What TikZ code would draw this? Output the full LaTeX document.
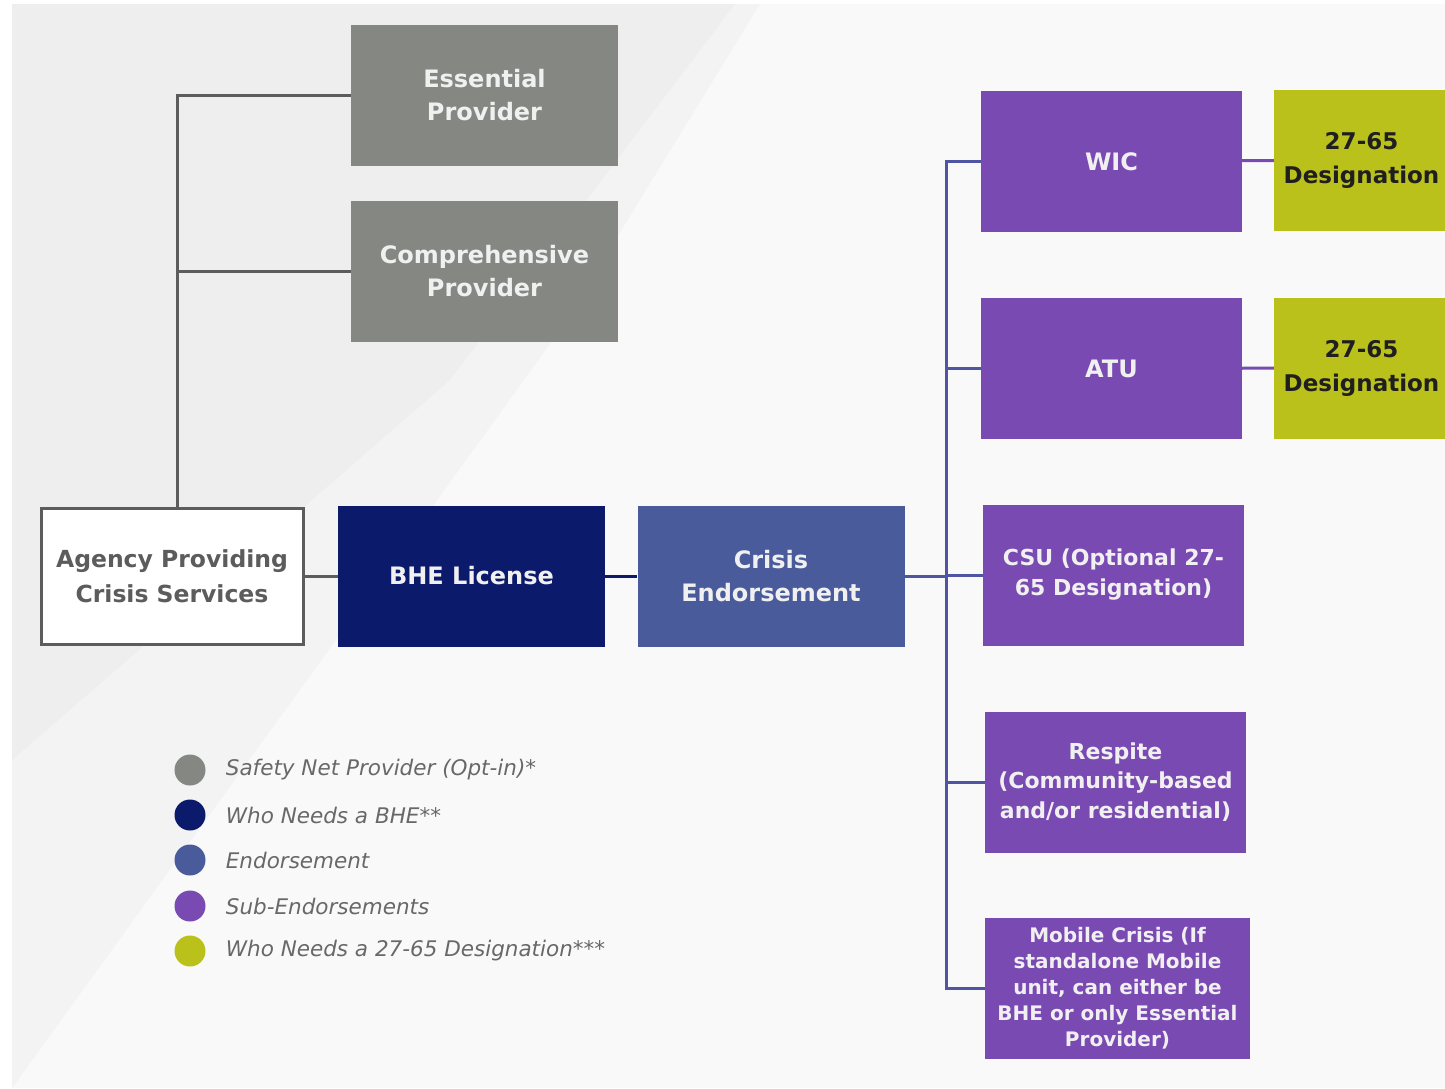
\documentclass[tikz,border=0pt]{standalone}
\usepackage{fontspec}
\setmainfont{DejaVu Sans}
\usepackage{tikz}
\usetikzlibrary{positioning}
\definecolor{provgray}{HTML}{858783}
\definecolor{bhenavy}{HTML}{0B1A6B}
\definecolor{endblue}{HTML}{4A5B9B}
\definecolor{subpurple}{HTML}{7A4AB3}
\definecolor{deslime}{HTML}{BBC11B}
\definecolor{linegray}{HTML}{5C5C5C}
\definecolor{busblue}{HTML}{4F55A3}
\definecolor{legtextgray}{HTML}{686868}
\definecolor{bgpale}{HTML}{F9F9F9}
\definecolor{bgmid}{HTML}{F3F3F3}
\definecolor{bgshade}{HTML}{EEEEEE}

\begin{document}
\begin{tikzpicture}[x=1pt, y=-1pt,
    box/.style={rectangle, inner sep=0pt, align=center, text=white!94!black,
                minimum width=267pt, minimum height=141pt,
                font=\bfseries\fontsize{24}{33}\selectfont},
    provbox/.style={box, fill=provgray},
    agencybox/.style={box, fill=white, draw=linegray, line width=3pt,
                      minimum width=262pt, minimum height=136pt, text=linegray,
                      font=\bfseries\fontsize{23.5}{35}\selectfont},
    bhebox/.style={box, fill=bhenavy},
    endbox/.style={box, fill=endblue},
    subbox/.style={box, fill=subpurple, minimum width=261pt},
    desbox/.style={box, fill=deslime, minimum width=175pt, text=black!88,
                   font=\bfseries\fontsize{23}{34}\selectfont},
    grayline/.style={draw=linegray, line width=3pt},
    navyline/.style={draw=bhenavy, line width=3pt},
    endline/.style={draw=busblue, line width=3pt},
    subline/.style={draw=subpurple, line width=3pt},
    dot/.style={circle, inner sep=0pt, minimum size=31pt},
    legtext/.style={inner sep=0pt, anchor=west, text=legtextgray,
                    font=\itshape\fontsize{21.5}{26}\selectfont}]
      % background
      \useasboundingbox (0,0) rectangle (1445,1088);
      \fill[white] (0,0) rectangle (1445,1088);
      \fill[bgpale] (12,4) rectangle (1445,1088);
      \fill[bgmid] (12,4) -- (760,4) -- (560,330) -- (12,1088) -- cycle;
      \fill[bgshade] (12,4) -- (735,4) -- (450,380) -- (12,760) -- cycle;

      % safety net providers
      \node[provbox] (essential) at (484.5,95.5) {Essential\\Provider};
      \node[provbox] (comprehensive) at (484.5,271.5) {Comprehensive\\Provider};

      % main row
      \node[agencybox] (agency) at (172,576) {Agency Providing\\Crisis Services};
      \node[bhebox] (bhe) at (471.5,576) {BHE License};
      \node[endbox] (crisis) at (771,576) {Crisis\\Endorsement};

      % sub-endorsements
      \node[subbox] (wic) at (1111.5,161.5) {WIC};
      \node[subbox] (atu) at (1111.5,368.5) {ATU};
      \node[subbox, font=\bfseries\fontsize{22}{30}\selectfont] (csu) at (1113.5,575)
            {CSU (Optional 27-\\65 Designation)};
      \node[subbox, font=\bfseries\fontsize{22}{29.5}\selectfont] (respite) at (1115.5,782)
            {Respite\\(Community-based\\and/or residential)};
      \node[subbox, minimum width=265pt, font=\bfseries\fontsize{20}{26}\selectfont] (mobile) at (1117.5,988)
            {Mobile Crisis (If\\standalone Mobile\\unit, can either be\\BHE or only Essential\\Provider)};

      % designations
      \node[desbox] (wicdes) at (1361.5,160) {27-65\\Designation};
      \node[desbox] (atudes) at (1361.5,368) {27-65\\Designation};

      % connectors
      \coordinate (trunk) at ([xshift=5pt]agency.north);
      \draw[grayline] (trunk) |- (essential.west);
      \draw[grayline] (comprehensive.west) -- (comprehensive.west -| trunk);
      \draw[grayline] (agency) -- (bhe);
      \draw[navyline] (bhe) -- (crisis);
      \coordinate (bus) at (946,576);
      \draw[endline] (crisis) -- (bus);
      \draw[endline] (wic.west) -- (wic.west -| bus) |- (mobile.west);
      \foreach \n in {atu,csu,respite}
        \draw[endline] (\n.west) -- (\n.west -| bus);
      \draw[subline] (wic) -- (wicdes);
      \draw[subline] (atu) -- (atudes);

      % legend
      \foreach \i/\y/\c/\t in {1/770/provgray/Safety Net Provider (Opt-in)*,
                               2/815/bhenavy/Who Needs a BHE**,
                               3/860/endblue/Endorsement,
                               4/906/subpurple/Sub-Endorsements,
                               5/951/deslime/Who Needs a 27-65 Designation***}
      {
        \node[dot, fill=\c] (dot\i) at (190,\y) {};
        \node[legtext, right=20pt of dot\i] (leg\i) {\t};
      }
\end{tikzpicture}
\end{document}
